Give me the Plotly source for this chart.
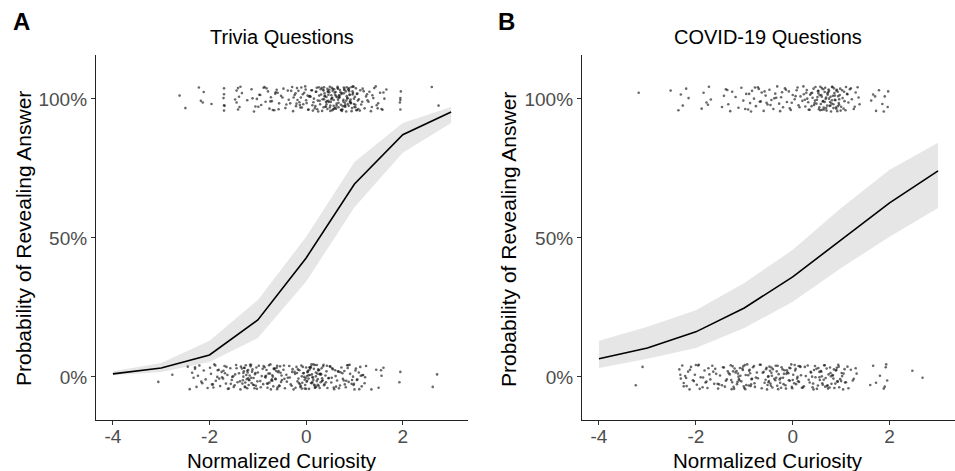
import plotly.graph_objects as go

# ---------------- data ----------------
curiosity = [-4, -3, -2, -1, 0, 1, 2, 3]

trivia_fit = [0.011, 0.032, 0.079, 0.205, 0.428, 0.694, 0.871, 0.953]
trivia_lo = [0.006, 0.018, 0.054, 0.140, 0.343, 0.610, 0.806, 0.913]
trivia_hi = [0.020, 0.050, 0.130, 0.277, 0.504, 0.773, 0.913, 0.971]

covid_fit = [0.065, 0.104, 0.162, 0.248, 0.360, 0.493, 0.626, 0.741]
covid_lo = [0.032, 0.065, 0.104, 0.176, 0.270, 0.392, 0.504, 0.608]
covid_hi = [0.130, 0.180, 0.240, 0.338, 0.457, 0.608, 0.745, 0.842]

x_ticks = [-4, -2, 0, 2]
x_tick_labels = ["-4", "-2", "0", "2"]
y_ticks = [0, 0.5, 1]
y_tick_labels = ["0%", "50%", "100%"]

# observed choices (1 = revealed, 0 = not revealed); *_j = vertical jitter in thousandths
triv_yes_x = [-2.62,-2.5,-2.22,-2.18,-2.12,-1.96,-1.71,-1.7,-1.7,-1.69,-1.7,-1.47,-1.44,-1.41,-1.39,-1.36,-1.44,-1.38,-1.33,
    -1.22,-1.13,-1.08,-1.02,-0.97,-0.93,-0.88,-0.84,-0.79,-0.76,-0.73,-0.69,-0.64,-0.61,-0.56,-1.11,-0.99,-0.86,-0.71,-0.63,-0.57,-0.52,-0.47,-0.41,-0.36,
    -0.31,-0.27,-0.24,-0.21,-0.19,-0.14,-0.11,-0.09,-0.04,-0.02,0.01,0.04,0.06,0.11,0.13,0.16,0.18,0.21,0.24,0.26,0.29,0.31,0.33,
    0.35,0.37,0.38,0.41,0.42,0.44,0.45,0.47,0.49,0.5,0.52,0.54,0.55,0.57,0.59,0.6,0.62,0.63,0.65,0.67,0.68,0.7,0.72,0.73,0.75,0.77,0.78,0.8,0.82,0.83,0.85,0.87,0.88,0.9,0.92,0.94,0.95,0.97,0.99,1.01,1.03,1.05,1.07,
    0.36,0.4,0.46,0.51,0.53,0.58,0.61,0.66,0.69,0.74,0.79,0.81,0.86,0.89,0.93,0.98,1.02,1.06,0.43,0.48,0.56,0.64,0.71,0.76,0.84,0.91,0.96,1.04,
    1.09,1.12,1.14,1.17,1.21,1.24,1.27,1.31,1.34,1.37,1.41,1.46,1.49,1.53,1.58,1.62,1.66,1.16,1.26,1.36,1.44,1.56,
    -0.26,-0.16,-0.06,0.03,0.14,0.22,0.28,-0.22,-0.12,0.08,0.19,0.3,
    1.94,1.95,1.95,1.96,1.95,2.6,2.74,
    -1.05,-0.95,-0.82,-0.74,-0.66,-0.59,-0.49,-0.43,-0.38,-0.33,-0.29,-0.18,-0.13,-0.07,-0.01,0.05,0.09,0.15,0.2,0.25,
    0.32,0.34,0.36,0.39,0.42,0.44,0.46,0.48,0.5,0.53,0.55,0.57,0.6,0.62,0.65,0.67,0.69,0.72,0.74,0.77,
    0.79,0.81,0.84,0.86,0.89,0.91,0.94,0.96,0.99,1.02,1.05,1.08,
    0.37,0.41,0.45,0.49,0.54,0.58,0.63,0.68,0.73,0.78,0.83,0.88,0.92,0.97,1.0,0.38,0.52,0.66,0.8,0.9,
    1.11,1.19,1.29,1.39,1.48,1.6,-0.2,-0.1,0.0,0.12,0.23,0.27,-1.7,-1.41,-2.14]
triv_yes_j = [12,-33,41,-7,25,-18,3,38,-42,-25,17,-2,30,-38,8,44,-13,-29,21,-5,35,-45,0,15,-22,40,-10,27,-35,6,
    -40,19,33,-16,2,-28,43,-8,24,-37,11,37,-20,-3,29,-44,14,-26,39,-12,5,-31,22,45,-15,-39,9,31,-23,1,
    -34,26,-6,42,-19,16,-43,34,-1,20,-27,7,-36,28,-11,44,-24,13,-41,36,-4,23,-32,10,-17,39,-30,4,32,-21,
    18,-38,-9,41,-14,27,-45,3,35,-25,14,-2,43,-33,21,-18,8,38,-40,-6,30,-28,15,-11,40,-35,25,-3,11,-43,
    36,-22,2,28,-15,44,-30,19,-8,33,-37,6,24,-26,42,-12,16,-41,-1,31,-20,37,-34,9,-5,26,-44,13,39,-23,
    -16,22,-39,1,34,-10,17,-29,45,-36,5,29,-19,12,-42,40,-7,20,-31,10,-26,35,-13,3,-38,27,-4,43,-24,
    -27,14,38,-9,-41,22,5,-33,30,-16,43,-4,-22,17,34,-38,8,-12,26,-45,40,-1,-30,11,-19,36,-7,24,-43,2,
    29,-25,15,-35,44,-14,6,-40,21,-3,32,-28,10,-18,39,-8,-44,27,1,-21,18,-36,42,-11,25,-31,4,35,-24,13,
    -39,20,-6,33,-15,45,-29,9,-2,37,-26,16,-42,28,-10,3,-34,23,-17,41,-5,31,-37,12,-23,39,-13,7,-45,26]

triv_no_x = [-3.06,-2.77,-2.45,-2.41,-2.36,-2.33,-2.3,-2.27,-2.24,-2.21,-2.17,-2.12,-2.08,-2.04,-1.99,-1.97,-1.93,-1.9,-1.87,-1.84,
    -1.81,-1.78,-1.75,-1.72,-1.69,-1.66,-1.63,-1.6,-1.57,-1.54,-1.51,-1.48,-1.45,-1.42,-1.39,-1.92,-1.83,-1.74,-1.65,-1.56,-1.47,
    -1.36,-1.33,-1.31,-1.29,-1.27,-1.25,-1.23,-1.21,-1.19,-1.17,-1.15,-1.13,-1.11,-1.09,-1.07,-1.05,-1.03,-1.01,-1.3,-1.26,-1.22,-1.18,-1.14,-1.1,-1.06,-1.02,-1.28,-1.2,-1.12,-1.04,
    -0.98,-0.95,-0.92,-0.89,-0.86,-0.84,-0.82,-0.8,-0.78,-0.76,-0.74,-0.72,-0.7,-0.68,-0.66,-0.64,-0.62,-0.6,-0.58,-0.56,-0.54,-0.52,-0.83,-0.77,-0.71,-0.65,-0.59,-0.53,-0.79,-0.69,-0.61,
    -0.5,-0.47,-0.44,-0.41,-0.38,-0.35,-0.32,-0.29,-0.26,-0.23,-0.2,-0.18,-0.16,-0.14,-0.12,-0.1,-0.08,-0.06,-0.04,-0.02,0.0,0.02,0.04,0.06,0.08,0.1,0.12,0.14,0.16,0.18,0.2,0.22,0.24,0.26,0.28,0.3,0.32,0.34,0.36,0.38,0.4,0.42,0.44,0.46,
    -0.17,-0.11,-0.05,0.01,0.07,0.13,0.19,0.25,0.31,0.37,0.43,-0.15,-0.09,-0.03,0.03,0.09,0.15,0.21,0.27,0.33,0.05,0.11,0.17,0.23,-0.01,
    0.49,0.52,0.55,0.58,0.61,0.64,0.67,0.7,0.73,0.76,0.79,0.82,0.85,0.88,0.91,0.94,0.97,1.0,1.03,1.06,1.09,1.12,1.15,1.18,1.21,1.24,0.53,0.6,0.68,0.75,0.83,0.9,0.98,1.05,
    1.45,1.5,1.56,1.6,1.93,1.95,2.62,2.71,
    -1.95,-1.88,-1.8,-1.71,-1.62,-1.53,-1.44,-1.37,-1.35,-1.32,-1.3,-1.28,-1.26,-1.24,-1.22,-1.2,-1.18,-1.16,-1.14,-1.08,
    -1.0,-0.94,-0.88,-0.85,-0.81,-0.75,-0.73,-0.67,-0.63,-0.57,-0.55,-0.51,-0.46,-0.4,-0.34,-0.28,-0.22,-0.19,-0.13,-0.07,
    -0.03,0.0,0.03,0.05,0.08,0.1,0.12,0.15,0.17,0.2,0.22,0.25,0.28,0.3,0.35,0.41,0.47,0.54,0.62,0.71,0.8,0.87,0.95,1.02,1.1,1.16,1.22,
    -2.3,-2.15,-1.68,-1.5,-0.9,-0.7,-0.6,-0.45,-0.3,-0.24,-0.09,0.02,0.07,0.13,0.18,0.24,0.29,0.33,0.5,0.57,0.66,0.78,0.86,0.99,1.13,1.35,1.55]
triv_no_j = [-18,8,37,-44,15,-3,29,-36,4,41,-17,23,-9,-40,33,11,-27,45,-14,0,26,-33,18,-6,39,-24,7,-42,31,-11,
    2,-30,43,-19,13,-38,24,-1,36,-25,9,-45,30,-12,20,-35,42,-8,16,-29,5,38,-22,27,-4,-41,14,34,-16,1,
    -37,22,-10,44,-28,10,-43,32,-5,19,-32,40,-15,3,-26,35,-2,25,-39,12,-20,45,-13,6,-34,28,-7,21,-44,17,
    -31,38,-18,4,42,-9,30,-37,15,-24,1,33,-11,26,-41,8,-3,39,-27,18,-45,11,36,-16,-6,24,-36,41,-21,13,
    0,-29,34,-14,22,-43,7,37,-23,-2,29,-39,16,43,-8,-32,10,-19,31,-12,44,-26,5,20,-40,-5,27,-33,14,-17,
    35,-1,-38,23,9,-30,40,-22,2,-42,17,32,-10,-35,25,-15,6,45,-28,12,-4,38,-20,28,-44,3,-13,19,-31,34,
    -7,21,-37,42,-18,11,-25,1,-45,30,-9,16,36,-34,7,-23,39,-3,24,-41,13,-14,44,-29,-11,26,-39,4,33,-19,
    18,-36,9,-27,41,-6,22,-43,0,31,-16,37,-24,14,
    33,-20,7,-41,25,-12,44,-3,-29,16,-37,39,1,-24,12,-45,30,-8,21,-33,5,41,-17,-2,28,-39,14,-26,36,-10,
    -43,19,-6,34,-22,9,45,-31,2,-15,27,-40,11,38,-19,-4,31,-35,17,-27,42,-11,23,-44,6,-1,35,-23,13,-36,
    29,-14,40,-7,-32,18,-42,3,26,-18,43,-28,10,-5,37,-38,20,-13,32,-25,4,-45,24,-9,39,-30,15,-21,1,34,
    -16,8,-34,27,-3,41,-26,12,-40,22]

cov_yes_x = [-3.18,-2.52,-2.36,-2.31,-2.27,-2.2,-2.15,-1.88,-1.84,-1.78,-1.73,-1.69,-1.46,-1.42,-1.38,-1.33,-1.29,-1.25,-1.18,-1.12,-1.06,-1.02,
    -0.96,-0.92,-0.88,-0.84,-0.8,-0.76,-0.72,-0.68,-0.64,-0.6,-0.56,-0.52,-0.48,-0.44,-0.4,-0.36,-0.32,-0.28,-0.24,-0.2,-0.16,-0.12,-0.08,-0.04,0.0,0.04,0.08,0.12,0.16,-0.86,-0.7,-0.54,-0.38,-0.22,-0.06,0.1,
    0.2,0.23,0.26,0.29,0.32,0.35,0.38,0.41,0.44,0.47,0.5,0.52,0.54,0.56,0.58,0.6,0.62,0.64,0.66,0.68,0.7,0.72,0.74,0.76,0.78,0.8,0.82,0.84,0.86,0.88,0.9,0.92,0.94,0.96,0.98,1.0,1.03,1.06,1.09,1.12,1.15,1.18,1.22,1.26,1.3,1.34,1.38,
    0.51,0.55,0.59,0.63,0.67,0.71,0.75,0.79,0.83,0.87,0.91,0.95,0.53,0.61,0.69,0.77,0.85,0.93,0.3,0.4,1.05,1.1,
    1.62,1.66,1.72,1.78,1.85,1.9,1.96,1.97,
    -0.98,-0.9,-0.78,-0.66,-0.58,-0.46,-0.34,-0.26,-0.14,-0.02,0.06,0.14,0.22,0.25,0.28,0.33,0.36,0.39,0.43,0.46,
    0.49,0.53,0.57,0.6,0.63,0.66,0.69,0.72,0.75,0.78,0.81,0.84,0.87,0.9,0.93,0.96,0.99,1.02,1.07,1.13,
    1.2,1.28,1.36,0.45,0.57,0.65,0.73,0.81,0.89,0.97,-1.35,-1.75,1.7,1.88]
cov_yes_j = [22,30,-41,16,-24,37,3,-35,22,-13,44,-2,-29,11,35,-19,-44,26,7,-32,40,-6,18,-38,-15,29,1,-26,42,-10,
    23,-43,12,-20,33,-4,-36,19,45,-17,6,-30,38,-11,27,-40,14,-1,31,-23,9,-45,36,-14,2,24,-34,41,-7,17,
    -27,32,-12,-39,20,4,-22,43,-3,28,-37,13,-18,39,-9,-31,25,0,-42,15,34,-25,8,-16,44,-33,21,-5,30,-44,
    10,-21,37,-28,3,26,-41,18,-13,35,-1,-36,23,42,-19,7,-30,14,-8,40,-24,29,-45,11,-3,33,-15,20,-39,5,
    -11,38,-26,1,22,-35,43,-6,16,-43,31,-18,9,-29,27,
    -36,18,41,-9,27,-22,4,-44,33,-14,10,-30,45,-3,22,-39,15,-26,37,-6,-17,29,-41,8,35,-11,-33,20,1,-24,
    43,-19,12,-35,26,-1,-42,31,-8,17,38,-28,5,-15,44,-38,24,-5,-31,14,32,-21,9,-45,39,-12,3,-27,21,-37]

cov_no_x = [-3.24,-3.1,-2.34,-2.31,-2.28,-2.25,-2.22,-2.19,-2.16,-2.13,-2.1,-2.06,-2.02,-1.98,-1.94,-1.9,-1.86,-1.82,-1.78,-1.74,-1.7,-1.66,-1.62,-1.58,-1.54,-1.5,-1.46,-1.42,-1.38,-1.34,-2.2,-2.0,-1.8,-1.6,-1.4,
    -1.3,-1.27,-1.24,-1.21,-1.18,-1.15,-1.12,-1.09,-1.06,-1.03,-1.0,-0.97,-0.94,-0.91,-0.88,-0.85,-0.82,-0.79,-0.76,-1.28,-1.22,-1.16,-1.1,-1.04,-0.98,-0.92,-0.86,-0.8,-1.25,-1.13,-1.01,-0.89,
    -0.72,-0.68,-0.64,-0.6,-0.56,-0.54,-0.52,-0.5,-0.48,-0.46,-0.44,-0.42,-0.55,-0.49,-0.43,-0.53,-0.47,
    -0.38,-0.35,-0.32,-0.29,-0.26,-0.23,-0.2,-0.17,-0.14,-0.11,-0.08,-0.05,-0.02,0.01,0.04,0.07,0.1,0.13,0.16,0.19,-0.33,-0.27,-0.21,-0.15,-0.09,-0.03,0.03,0.09,0.15,-0.3,-0.18,-0.06,0.06,
    0.23,0.27,0.31,0.35,0.38,0.41,0.44,0.47,0.5,0.53,0.56,0.59,0.62,0.65,0.68,0.71,0.74,0.77,0.8,0.83,0.86,0.89,0.92,0.95,0.98,1.01,1.04,1.07,1.1,0.4,0.46,0.52,0.58,0.64,0.7,0.76,0.82,0.88,0.94,1.0,0.55,0.67,0.79,0.91,
    1.15,1.2,1.26,1.32,1.6,1.66,1.72,1.8,1.88,1.92,1.95,2.47,2.68,
    -2.32,-2.25,-2.12,-2.04,-1.95,-1.85,-1.76,-1.64,-1.55,-1.44,-1.36,-1.32,-1.26,-1.2,-1.14,-1.08,-1.02,-0.96,-0.9,-0.84,
    -0.78,-0.74,-0.66,-0.58,-0.51,-0.45,-0.41,-0.36,-0.31,-0.25,-0.19,-0.13,-0.07,-0.01,0.05,0.11,0.17,0.21,0.25,0.33,
    0.37,0.43,0.49,0.55,0.61,0.66,0.72,0.78,0.84,0.9,0.96,1.02,1.08,1.13,1.24,1.3,
    -1.92,-1.72,-1.52,-1.23,-1.11,-0.99,-0.87,-0.62,-0.5,-0.44,-0.34,-0.24,-0.12,0.0,0.12,0.42,0.6,0.73,0.85,0.93,1.05,1.9,1.93]
cov_no_j = [-30,36,27,-6,41,-22,3,-33,19,-45,36,-12,8,-28,44,-1,-37,23,-17,31,-9,40,-25,11,-42,5,-30,34,-14,20,
    -4,43,-20,29,-35,9,-11,38,-43,16,-26,1,32,-16,25,-40,7,45,-31,13,-8,35,-23,-2,42,-36,21,-13,30,-44,
    6,-27,39,-19,12,-34,26,-5,44,-41,18,-10,33,-29,2,37,-24,15,-38,28,-15,4,-45,22,-7,40,-32,10,-21,35,
    -3,24,-42,17,-12,31,-36,8,43,-26,0,-18,36,-39,20,-9,27,-30,13,45,-23,-6,38,-44,11,-14,29,-34,3,41,
    -20,16,-37,25,-1,-43,32,-11,19,-28,42,-4,-33,9,34,-25,5,-40,23,-16,37,-8,14,-45,28,-19,1,39,-31,21,
    -10,30,-38,7,-24,44,-15,18,-35,2,33,-41,26,-7,12,-29,40,-21,4,-42,35,-13,22,-3,
    8,-34,26,-15,41,-2,-40,19,-25,35,-9,13,-44,30,-18,4,38,-29,22,-7,-36,16,44,-21,1,-32,28,-12,40,-4,
    -26,11,33,-41,23,-16,6,-38,36,-10,18,-45,29,-1,-23,42,-30,14,-6,25,-37,3,-20,37,-13,31,-43,9,-27,20,
    -8,43,-33,15,-19,34,-3,-39,24,-11,39,-24,2,-42,27,-17,12,-35,45,-5]

# ---------------- figure ----------------
W, H = 955, 471
FONT = "Liberation Sans"
RIBBON = "rgba(200,200,200,0.45)"
DOT = "rgba(25,25,25,0.65)"

fig = go.Figure()

def add_panel(fit, lo, hi, yes_x, yes_j, no_x, no_j, xa, ya):
    fig.add_trace(go.Scatter(x=curiosity + curiosity[::-1], y=hi + lo[::-1], fill="toself",
                             fillcolor=RIBBON, line=dict(width=0), mode="lines",
                             xaxis=xa, yaxis=ya, hoverinfo="skip"))
    px = [x for x, j in zip(yes_x, yes_j)] + [x for x, j in zip(no_x, no_j)]
    py = [1 + j / 1000 for x, j in zip(yes_x, yes_j)] + [0 + j / 1000 for x, j in zip(no_x, no_j)]
    fig.add_trace(go.Scatter(x=px, y=py, mode="markers",
                             marker=dict(size=2.6, color=DOT, line=dict(width=0)),
                             xaxis=xa, yaxis=ya))
    fig.add_trace(go.Scatter(x=curiosity, y=fit, mode="lines",
                             line=dict(color="black", width=1.6), xaxis=xa, yaxis=ya))

add_panel(trivia_fit, trivia_lo, trivia_hi, triv_yes_x, triv_yes_j, triv_no_x, triv_no_j, "x", "y")
add_panel(covid_fit, covid_lo, covid_hi, cov_yes_x, cov_yes_j, cov_no_x, cov_no_j, "x2", "y2")

y_dom = [(H - 420) / H, (H - 55) / H]
axis_common = dict(showline=True, linecolor="#222", linewidth=1.2, ticks="outside", ticklen=4,
                   tickcolor="#333", tickwidth=1, showgrid=False, zeroline=False, mirror=False,
                   tickfont=dict(family=FONT, size=19, color="#4D4D4D"))
x_extra = dict(ticklabelstandoff=-5)

fig.update_layout(
    width=W, height=H, margin=dict(l=0, r=0, t=0, b=0),
    paper_bgcolor="white", plot_bgcolor="white", showlegend=False,
    xaxis=dict(domain=[96 / W, 468 / W], range=[-4.35, 3.35], tickvals=x_ticks, ticktext=x_tick_labels,
               anchor="y", **axis_common, **x_extra),
    yaxis=dict(domain=y_dom, range=[-0.155, 1.158], tickvals=y_ticks, ticktext=y_tick_labels,
               anchor="x", **axis_common),
    xaxis2=dict(domain=[582 / W, 1.0], range=[-4.35, 3.35], tickvals=x_ticks, ticktext=x_tick_labels,
                anchor="y2", **axis_common, **x_extra),
    yaxis2=dict(domain=y_dom, range=[-0.155, 1.158], tickvals=y_ticks, ticktext=y_tick_labels,
                anchor="x2", **axis_common),
)

def ann(text, x, y, size, bold=False, angle=0, xanchor="center"):
    fig.add_annotation(text=f"<b>{text}</b>" if bold else text, x=x / W, y=(H - y) / H,
                       xref="paper", yref="paper", showarrow=False, textangle=angle,
                       xanchor=xanchor, yanchor="middle",
                       font=dict(family=FONT, size=size, color="black"))

ann("A", 11, 22, 24, bold=True, xanchor="left")
ann("B", 496, 22, 24, bold=True, xanchor="left")
ann("Trivia Questions", 282, 37, 20)
ann("COVID-19 Questions", 768, 37, 20)
ann("Normalized Curiosity", 282, 460, 20.5)
ann("Normalized Curiosity", 768, 460, 20.5)
ann("Probability of Revealing Answer", 23, 239, 21, angle=-90)
ann("Probability of Revealing Answer", 508, 239, 21, angle=-90)

fig.write_html("out.html")
